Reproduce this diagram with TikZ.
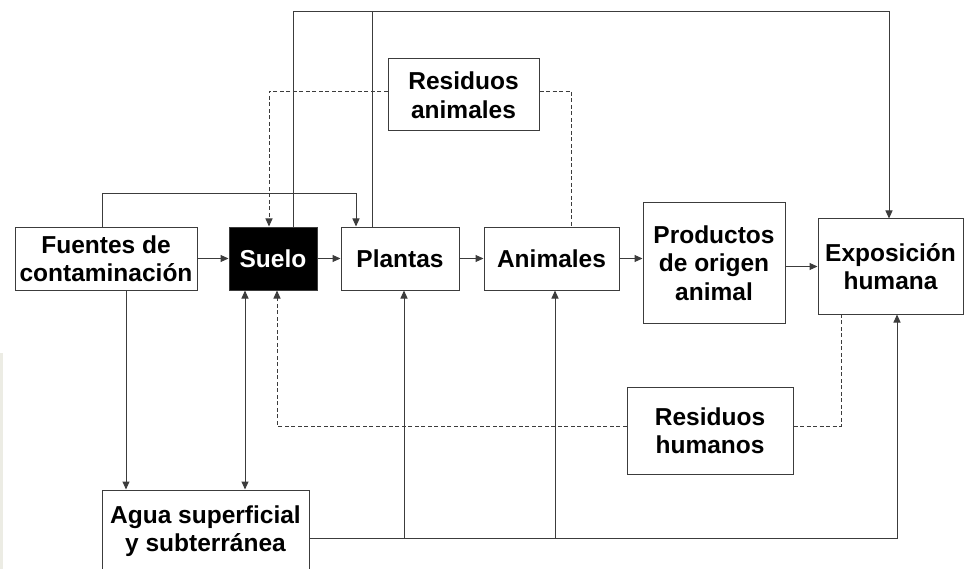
\documentclass[tikz,border=0pt]{standalone}
\usepackage{fontspec}
\setmainfont{Liberation Sans}
\usetikzlibrary{arrows.meta}
\definecolor{ln}{RGB}{60,60,60}
\definecolor{strip}{RGB}{236,236,228}
\tikzset{
  tip/.tip={Triangle[length=8pt,width=7pt]},
  box/.style={draw=ln, line width=1pt, fill=white, inner sep=0pt, align=center,
    font=\fontsize{24.5}{28.5}\selectfont\bfseries},
  txt/.style={inner sep=0pt, align=center, font=\fontsize{24.5}{28.5}\selectfont\bfseries},
  conn/.style={draw=ln, line width=1pt},
  arr/.style={conn, -tip},
  arrb/.style={conn, tip-tip},
  dsh/.style={conn, line width=0.9pt, dash pattern=on 4pt off 2.5pt}
}
\begin{document}
\begin{tikzpicture}[x=1pt,y=-1pt]
\useasboundingbox (0,0) rectangle (965,569);
\fill[strip] (0,353) rectangle (2.5,569);
\coordinate (top) at (0,12);
% nodes
\node[box, minimum width=182pt, minimum height=63pt] (fuentes) at (106,258.5) {Fuentes de\\contaminación};
\node[box, fill=black, text=white, minimum width=88pt, minimum height=63pt] (suelo) at (273,258.5) {Suelo};
\node[box, minimum width=118pt, minimum height=63pt] (plantas) at (400,258.5) {Plantas};
\node[box, minimum width=135pt, minimum height=63pt] (animales) at (551.5,258.5) {Animales};
\node[box, minimum width=142pt, minimum height=120pt] (productos) at (714,263) {Productos\\de origen\\animal};
\node[box, minimum width=145pt, minimum height=95pt] (expo) at (890.5,266.5) {Exposición\\humana};
\node[box, minimum width=151pt, minimum height=72pt] (ranim) at (463.5,95) {Residuos\\animales};
\node[box, minimum width=166pt, minimum height=87pt] (rhum) at (710,430.5) {Residuos\\humanos};
\node[box, minimum width=207pt, minimum height=92pt] (agua) at (205.5,536) {};
\node[txt] (aguat) at (205.5,531) {Agua superficial\\y subterránea};
% main chain
\draw[arr] (fuentes.east) -- (suelo.west);
\draw[arr] (suelo.east) -- (plantas.west);
\draw[arr] (plantas.east) -- (animales.west);
\draw[arr] (animales.east) -- (animales.east -| productos.west);
\draw[arr] (productos.east |- expo.west) -- (expo.west);
% fuentes -> plantas over the top
\coordinate (fn) at ([xshift=-4pt]fuentes.north);
\coordinate (pn) at ([xshift=-44pt]plantas.north);
\draw[arr] (fn) -- ++(0,-33) -| (pn);
% top line to exposicion
\coordinate (sn) at ([xshift=20pt]suelo.north);
\coordinate (pn2) at ([xshift=-28pt]plantas.north);
\coordinate (en) at ([xshift=-1.5pt]expo.north);
\draw[arr] (sn) |- (top -| en) -- (en);
\draw[conn] (pn2) -- (pn2 |- top);
% residuos animales
\coordinate (ral) at ([yshift=4pt]ranim.west);
\coordinate (rar) at ([yshift=4pt]ranim.east);
\coordinate (sn2) at ([xshift=-4pt]suelo.north);
\coordinate (an) at ([xshift=19.5pt]animales.north);
\draw[dsh, -tip] (ral) -| (sn2);
\draw[dsh] (rar) -| (an);
% fuentes -> agua, suelo <-> agua
\coordinate (fs) at ([xshift=20pt]fuentes.south);
\draw[arr] (fs) -- (fs |- agua.north);
\coordinate (ss) at ([xshift=-28pt]suelo.south);
\draw[arrb] (ss) -- (ss |- agua.north);
% residuos humanos
\coordinate (rhl) at ([yshift=4.5pt]rhum.west);
\coordinate (rhr) at ([yshift=4.5pt]rhum.east);
\coordinate (ss2) at ([xshift=4pt]suelo.south);
\coordinate (es) at ([xshift=-49.5pt]expo.south);
\draw[dsh, -tip] (rhl) -| (ss2);
\draw[dsh] (rhr) -| (es);
% agua bus
\coordinate (bus) at ([yshift=-2pt]agua.east);
\coordinate (es2) at ([xshift=6.5pt]expo.south);
\coordinate (pb) at ([xshift=4pt]plantas.south);
\coordinate (ab) at ([xshift=3.5pt]animales.south);
\draw[arr] (bus) -| (es2);
\draw[arr] (pb |- bus) -- (pb);
\draw[arr] (ab |- bus) -- (ab);
\end{tikzpicture}
\end{document}
